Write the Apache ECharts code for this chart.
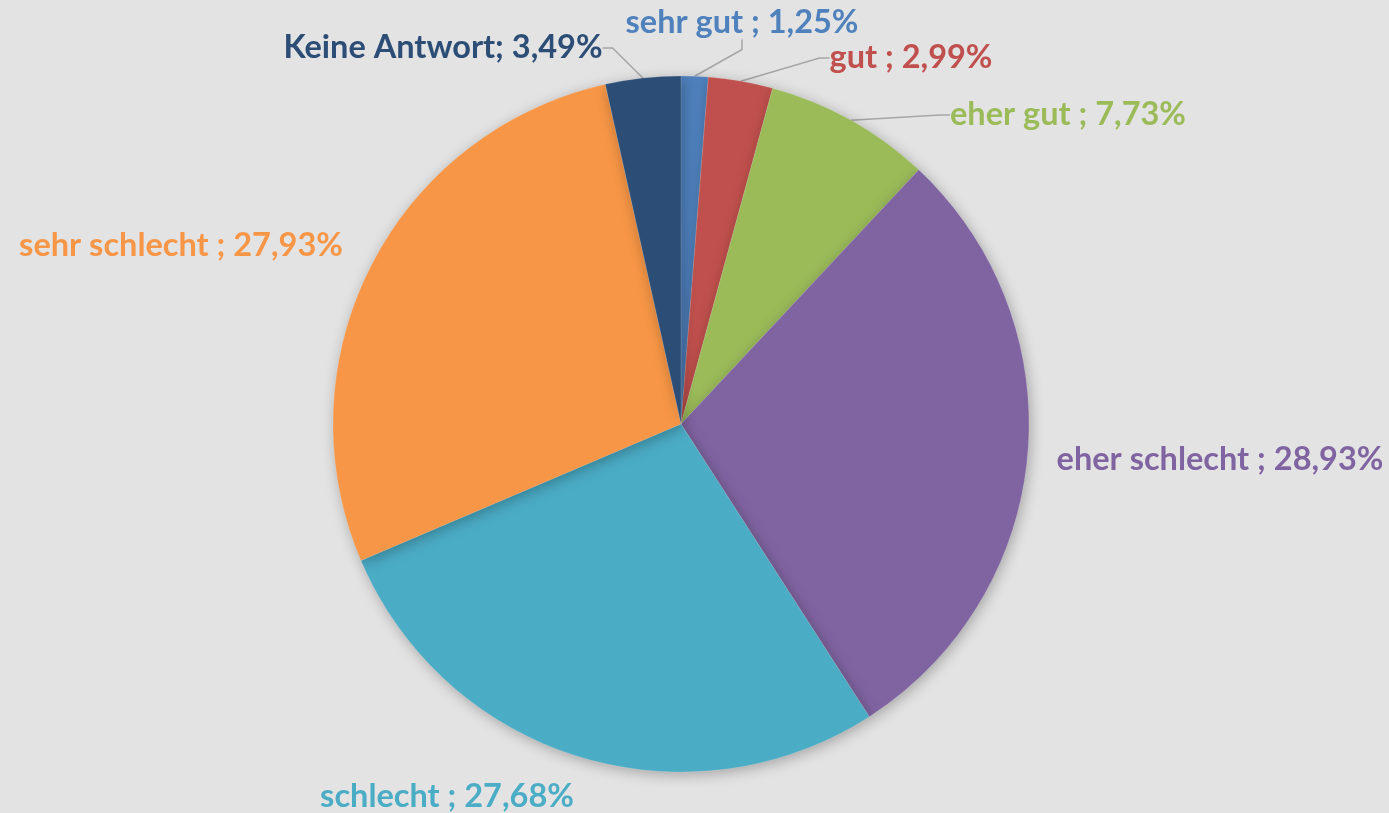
<!DOCTYPE html>
<html>
<head>
<meta charset="utf-8">
<script src="https://cdn.jsdelivr.net/npm/echarts@6/dist/echarts.min.js"></script>
<style>
html,body{margin:0;padding:0;background:#e3e3e3;}
#c{width:1389px;height:813px;}
</style>
</head>
<body>
<div id="c"></div>
<script>
const categories = ['sehr gut', 'gut', 'eher gut', 'eher schlecht', 'schlecht', 'sehr schlecht', 'Keine Antwort'];
const values = [1.25, 2.99, 7.73, 28.93, 27.68, 27.93, 3.49];
const separators = [' ; ', ' ; ', ' ; ', ' ; ', ' ; ', ' ; ', '; '];
const colors = ['#4f81bd', '#c0504d', '#9bbb59', '#8064a2', '#4bacc6', '#f79646', '#2c4d75'];
const showLine = [true, true, true, false, false, false, true];
// label anchor positions (text centre)
const labelPos = [[742, 23], [911, 58], [1068, 115], [1220, 460], [447, 797], [181, 246], [443, 48]];

const chart = echarts.init(document.getElementById('c'));
chart.setOption({
  backgroundColor: '#e3e3e3',
  animation: false,
  series: [{
    type: 'pie',
    center: [681, 424],
    radius: [0, 348],
    startAngle: 90,
    clockwise: true,
    data: categories.map((n, i) => ({
      name: n,
      value: values[i],
      itemStyle: { color: colors[i] },
      label: { color: colors[i] },
      labelLine: { show: showLine[i] }
    })),
    itemStyle: {
      borderColor: 'rgba(255,255,255,0.25)',
      borderWidth: 0.5,
      shadowBlur: 14,
      shadowColor: 'rgba(0,0,0,0.28)',
      shadowOffsetX: 2,
      shadowOffsetY: 3
    },
    label: {
      show: true,
      position: 'outside',
      fontFamily: 'Lato',
      fontWeight: 'bold',
      fontSize: 32.5,
      formatter: p => p.name + separators[p.dataIndex] + values[p.dataIndex].toFixed(2).replace('.', ',') + '%'
    },
    labelLine: {
      show: true,
      length: 10,
      length2: 10,
      lineStyle: { color: '#a6a6a6', width: 1.5 }
    },
    labelLayout: p => ({
      x: labelPos[p.dataIndex][0],
      y: labelPos[p.dataIndex][1],
      align: 'center',
      verticalAlign: 'middle'
    })
  }]
});
</script>
</body>
</html>
